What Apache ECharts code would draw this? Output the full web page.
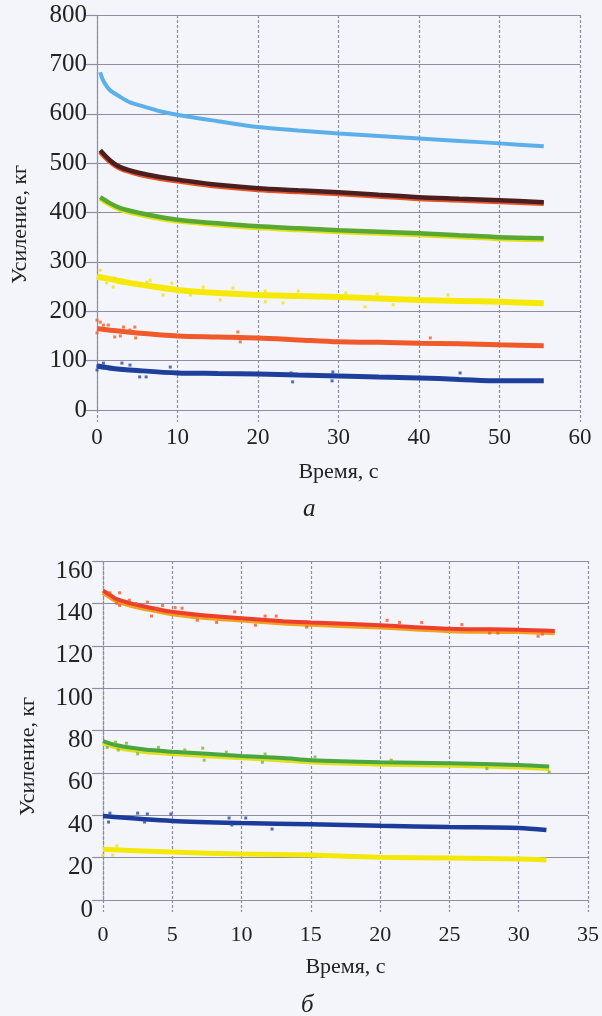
<!DOCTYPE html>
<html><head><meta charset="utf-8">
<script src="https://cdn.jsdelivr.net/npm/echarts@6/dist/echarts.min.js"></script>
<style>html,body{margin:0;padding:0;background:#f3f5fa;}#c{width:602px;height:1016px;}</style>
</head><body><div id="c"></div>
<script>
// ---------- Chart a (0–60 s, 0–800 kg) ----------
const aXTicks = [0, 10, 20, 30, 40, 50, 60];
const aYTicks = [0, 100, 200, 300, 400, 500, 600, 700, 800];

const aTimeLightBlue = [0.4, 0.75, 1.6, 2.9, 4.1, 5.3, 6.6, 7.8, 10.3, 15, 20, 25, 30, 35, 40, 45, 50, 55.5];
const aLightBlue     = [684, 668, 648, 634, 623, 617, 611, 605, 597, 585, 573, 566, 560, 555, 550, 545, 540, 534];

const aTimeBrown = [0.4, 1.6, 2.9, 5.3, 7.8, 10.3, 15, 20, 25, 30, 35, 40, 45, 50, 55.5];
const aBrown     = [526, 506, 492, 480, 472, 466, 456, 449, 445, 441, 436, 431, 428, 425, 421];
const aBrownRed  = [523, 503, 489, 477, 469, 463, 453, 446, 442, 438, 433, 428, 425, 422, 418];

const aTimeGreen  = [0.4, 1.6, 2.9, 5.3, 7.8, 10.3, 15, 20, 25, 30, 35, 40, 45, 50, 55.5];
const aGreen      = [431, 419, 409, 399, 391, 385, 378, 372, 368, 364, 361, 358, 354, 350, 348];
const aGreenYellow= [428, 416, 406, 396, 388, 382, 375, 369, 365, 361, 358, 355, 351, 347, 345];

const aTimeYellow = [0, 1, 2, 3.5, 5, 7, 10, 15, 20, 25, 30, 35, 40, 45, 50, 55.5];
const aYellow     = [270, 267, 264, 259, 255, 250, 243, 237, 233, 231, 229, 226, 223, 221, 219, 216];

const aTimeRed = [0, 2, 5, 10, 15, 20, 25, 30, 35, 40, 45, 50, 55.5];
const aRed     = [165, 161, 156, 150, 148, 146, 142, 138, 137, 135, 134, 132, 130];

const aTimeBlue = [0, 2, 5, 10, 15, 20, 25, 30, 35, 40, 45, 50, 55.5];
const aBlue     = [89, 84, 80, 75, 74, 73, 71, 69, 67, 65, 62, 59, 59];

// scattered single readings
const aYellowDotsT = [0.4, 1.2, 2.2, 2.0, 5.3, 6.2, 6.6, 8.2, 9.3, 11.6, 13.2, 15.3, 16.9, 20.9, 20.9, 23.1, 25, 30.9, 33.3, 34.8, 36.8, 43.6];
const aYellowDotsV = [283, 257, 267, 249, 253, 259, 263, 233, 257, 233, 249, 223, 247, 241, 219, 217, 241, 237, 209, 235, 213, 233];
const aRedDotsT = [0, 0.4, 0.8, 1.4, 0, 2.2, 3.3, 4.1, 4.7, 4.8, 2.9, 17.5, 17.8, 41.4];
const aRedDotsV = [182, 178, 172, 172, 156, 148, 168, 162, 168, 146, 150, 158, 138, 146];
const aBlueDotsT = [0.1, 0, 0.8, 3.1, 4.1, 5.3, 6.1, 9.1, 24.1, 24.3, 29.3, 29.2, 45.1];
const aBlueDotsV = [89, 81, 95, 95, 91, 67, 67, 87, 75, 57, 77, 59, 75];

// ---------- Chart б (0–35 s, 0–160 kg) ----------
const bXTicks = [0, 5, 10, 15, 20, 25, 30, 35];
const bYTicks = [0, 20, 40, 60, 80, 100, 120, 140, 160];

const bTimeRed = [0, 0.5, 1, 2, 3, 5, 7, 10, 13, 15, 20, 25, 30, 32.6];
const bRed     = [146, 144, 142, 140, 138.5, 136, 134.5, 133, 131.6, 131, 129.7, 128, 127.6, 127];
const bRedOrange = [145, 143, 141, 139, 137.5, 135, 133.5, 132, 130.6, 130, 128.7, 127, 126.6, 126];

const bTimeGreen = [0, 1, 3, 5, 10, 13, 15, 20, 25, 30, 32.2];
const bGreen     = [75, 73, 71, 70, 68, 67, 66, 65, 64.5, 63.7, 63];
const bGreenYellow = [74, 72, 70, 69, 67, 66, 65, 64, 63.5, 62.7, 62];

const bTimeBlue = [0, 5, 10, 15, 20, 25, 30, 32];
const bBlue     = [39.6, 37.3, 36.3, 35.8, 35, 34.4, 34, 33];

const bTimeYellow = [0, 5, 10, 15, 20, 25, 30, 32];
const bYellow     = [24, 22.6, 21.7, 21.2, 20.2, 19.8, 19.3, 18.9];

const bRedDotsT = [0.5, 1.2, 1.0, 1.2, 1.9, 2.4, 3.2, 3.5, 3.9, 4.3, 5.2, 5.7, 6.8, 8.2, 9.5, 11, 11.7, 12.5, 14.7, 20.5, 21.4, 23, 25.9, 27.9, 28.5, 31.4, 31.7];
const bRedDotsV = [145, 145, 140, 139, 141.5, 140, 140.6, 134, 137.7, 139, 138, 137.7, 132, 131, 136, 129.7, 134, 134, 128.8, 132, 131, 131, 130, 126, 126, 124.5, 125.5];
const bGreenDotsT = [0.3, 0.9, 1.1, 1.7, 2.5, 4.0, 5.9, 7.2, 7.3, 8.9, 11.5, 11.7, 15.3, 20.8, 27.7, 32.2];
const bGreenDotsV = [72, 74.5, 70.8, 74, 69, 72, 70.8, 71.7, 66, 69.8, 65, 68.9, 67.5, 66, 62, 60.4];
const bBlueDotsT = [0.5, 2.5, 3.2, 3, 0.4, 4.9, 9.1, 9.3, 10.3, 12.2];
const bBlueDotsV = [41, 41, 40.6, 36.8, 36.8, 40.6, 38.7, 35.4, 38.7, 33.5];
const bYellowDotsT = [1, 0.7, 0];
const bYellowDotsV = [25.5, 21.2, 21.2];

const xName = 'Время, с';
const yName = 'Усиление, кг';

// ---------- build ----------
const zip = (t, v) => t.map((x, i) => [x, v[i]]);
const GRIDC = '#8f8ca6';
const FONT = 'Liberation Serif';

function line(idx, t, v, color, w, z) {
  return { type: 'line', xAxisIndex: idx, yAxisIndex: idx, data: zip(t, v), smooth: 0.3,
    showSymbol: false, lineStyle: { color: color, width: w }, z: z || 2, silent: true };
}
function dots(idx, t, v, color) {
  return { type: 'scatter', xAxisIndex: idx, yAxisIndex: idx, data: zip(t, v), symbol: 'rect',
    symbolSize: 3, itemStyle: { color: color }, z: 3, silent: true };
}
function xAxis(idx, ticks, labelMargin, nameGap, labelSize) {
  return { type: 'value', gridIndex: idx, min: ticks[0], max: ticks[ticks.length - 1],
    interval: ticks[1] - ticks[0],
    name: xName, nameLocation: 'middle', nameGap: nameGap,
    nameTextStyle: { fontFamily: FONT, fontSize: 22, color: '#222' },
    axisLine: { show: true, onZero: false, lineStyle: { color: GRIDC, width: 1.2 } },
    axisTick: { show: true, length: 12, lineStyle: { color: GRIDC, type: [3, 2], width: 1.2 } },
    axisLabel: { fontFamily: FONT, fontSize: labelSize, color: '#222', margin: labelMargin },
    splitLine: { show: true, lineStyle: { color: GRIDC, type: [3, 2], width: 1.2 } } };
}
function yAxis(idx, ticks, nameGap, namePad, labelStyle) {
  return { type: 'value', gridIndex: idx, min: ticks[0], max: ticks[ticks.length - 1],
    interval: ticks[1] - ticks[0],
    name: yName, nameLocation: 'middle', nameGap: nameGap, nameMoveOverlap: false,
    nameTextStyle: { fontFamily: FONT, fontSize: 22, color: '#222', padding: namePad },
    axisLine: { show: true, lineStyle: { color: GRIDC, type: [3, 2], width: 1.2 } },
    axisTick: { show: true, length: 11, lineStyle: { color: GRIDC, width: 1.2 } },
    axisLabel: Object.assign({ fontFamily: FONT, fontSize: 25, color: '#222', margin: 10 }, labelStyle),
    splitLine: { show: true, lineStyle: { color: GRIDC, width: 1.2 } } };
}

const option = {
  backgroundColor: '#f3f5fa',
  animation: false,
  grid: [
    { left: 97, right: 22, top: 15, bottom: 606 },
    { left: 103, right: 13, top: 561, bottom: 116 }
  ],
  xAxis: [xAxis(0, aXTicks, 16, 51, 23), xAxis(1, bXTicks, 24, 56, 22)],
  yAxis: [
    yAxis(0, aYTicks, 66, [0, 24, 0, 0], {}),
    yAxis(1, bYTicks, 64, [0, 52, 0, 0], { verticalAlign: 'top', lineHeight: 20 })
  ],
  title: [
    { text: 'а', left: 298, top: 492, textStyle: { fontFamily: FONT, fontStyle: 'italic', fontWeight: 'normal', fontSize: 25, color: '#222' } },
    { text: 'б', left: 296, top: 988, textStyle: { fontFamily: FONT, fontStyle: 'italic', fontWeight: 'normal', fontSize: 25, color: '#222' } }
  ],
  series: [
    line(0, aTimeLightBlue, aLightBlue, '#5cb0ea', 4),
    line(0, aTimeBrown, aBrownRed, '#e8542a', 5),
    line(0, aTimeBrown, aBrown, '#4b1f20', 4.5, 3),
    line(0, aTimeGreen, aGreenYellow, '#e2e21a', 5),
    line(0, aTimeGreen, aGreen, '#5aa834', 4.5, 3),
    line(0, aTimeYellow, aYellow, '#f6e90a', 6),
    line(0, aTimeRed, aRed, '#f05a2a', 5),
    line(0, aTimeBlue, aBlue, '#1f3f9c', 5),
    dots(0, aYellowDotsT, aYellowDotsV, '#f0e020'),
    dots(0, aRedDotsT, aRedDotsV, '#f06030'),
    dots(0, aBlueDotsT, aBlueDotsV, '#2a4aa8'),

    line(1, bTimeRed, bRedOrange, '#f2a020', 4.5),
    line(1, bTimeRed, bRed, '#ee3e2c', 4, 3),
    line(1, bTimeGreen, bGreenYellow, '#e0e020', 4.5),
    line(1, bTimeGreen, bGreen, '#4aa640', 4, 3),
    line(1, bTimeBlue, bBlue, '#1c3c9c', 4.5),
    line(1, bTimeYellow, bYellow, '#f4e80a', 5),
    dots(1, bRedDotsT, bRedDotsV, '#f05a30'),
    dots(1, bGreenDotsT, bGreenDotsV, '#7ab830'),
    dots(1, bBlueDotsT, bBlueDotsV, '#2a4aa8'),
    dots(1, bYellowDotsT, bYellowDotsV, '#e8e020')
  ]
};
echarts.init(document.getElementById('c'), null, { renderer: 'canvas' }).setOption(option);
</script></body></html>
